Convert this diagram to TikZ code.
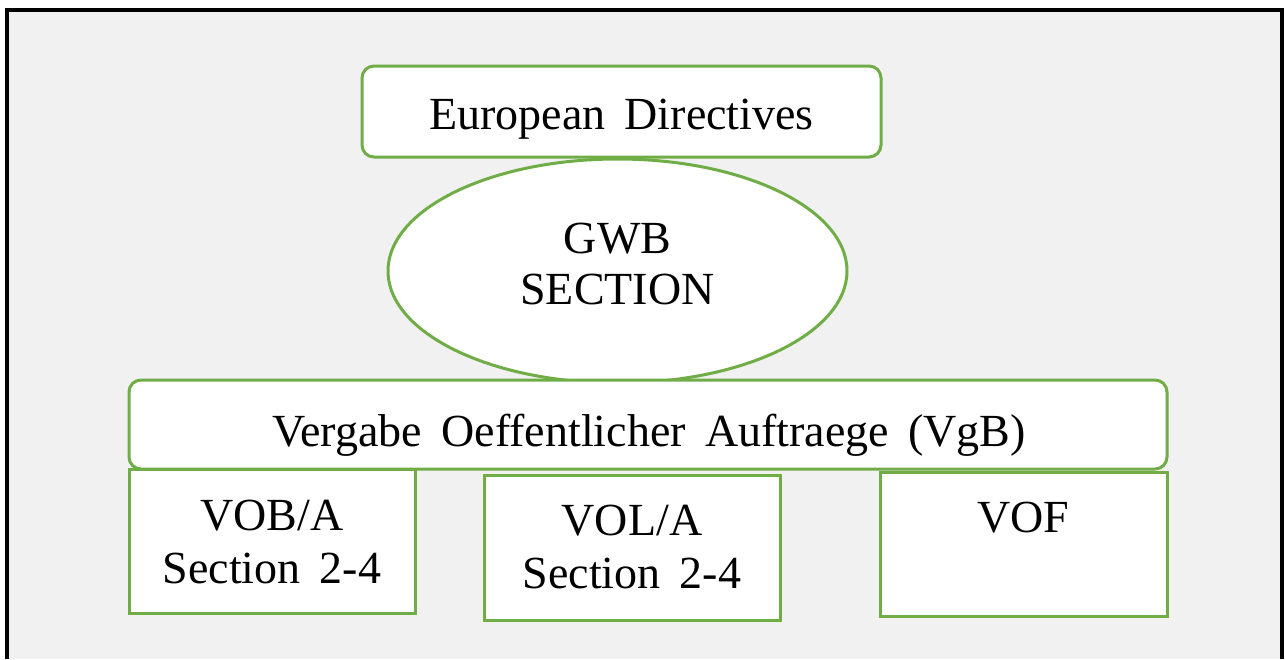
\documentclass[tikz,border=0pt]{standalone}
\usepackage{fontspec}
\setmainfont{Liberation Serif}
\usetikzlibrary{shapes.geometric}
\definecolor{frameGreen}{HTML}{70AD47}
\definecolor{paneGray}{HTML}{F1F1F1}
\tikzset{
  greenbox/.style={draw=frameGreen, line width=3pt, fill=white, inner sep=0pt},
  roundbox/.style={greenbox, rounded corners=12pt},
  label text/.style={font=\fontsize{46}{52}\selectfont, inner sep=0pt, anchor=base},
}
\newcommand{\wsp}{\hspace{0.42em}}
\begin{document}
\begin{tikzpicture}[x=1pt,y=-1pt]
  \useasboundingbox (0,0) rectangle (1285,659);
  % panel with its frame (open at the bottom edge)
  \fill[paneGray] (7,10) rectangle (1282,659);
  \draw[line width=3.5pt] (7,659) -- (7,10) -- (1282,10) -- (1282,659);

  % top box
  \node[roundbox, minimum width=519pt, minimum height=91pt] (eu) at (621.5,111.5) {};
  \node[label text] (eutext) at (621.5,129) {European\wsp Directives};

  % ellipse
  \node[greenbox, ellipse, minimum width=459pt, minimum height=224pt] (gwb) at (617.5,271) {};
  \node[label text] (gwbtext1) at (617.5,253) {GWB};
  \node[label text] (gwbtext2) at (617.5,304) {SECTION};

  % wide box
  \node[roundbox, minimum width=1038pt, minimum height=89pt] (vgb) at (648,424.5) {};
  \node[label text] (vgbtext) at (649,446) {Vergabe\wsp Oeffentlicher\wsp Auftraege\wsp (VgB)};

  % lower boxes
  \node[greenbox, minimum width=286pt, minimum height=144pt] (vob) at (272,541) {};
  \node[label text] (vobtext1) at (272,530) {VOB/A};
  \node[label text] (vobtext2) at (272,583) {Section\wsp 2-4};

  \node[greenbox, minimum width=296pt, minimum height=145pt] (vol) at (632,547.5) {};
  \node[label text] (voltext1) at (632,535) {VOL/A};
  \node[label text] (voltext2) at (632,588) {Section\wsp 2-4};

  \node[greenbox, minimum width=287pt, minimum height=144pt] (vof) at (1023.5,544) {};
  \node[label text] (voftext) at (1023.5,532) {VOF};
\end{tikzpicture}
\end{document}
